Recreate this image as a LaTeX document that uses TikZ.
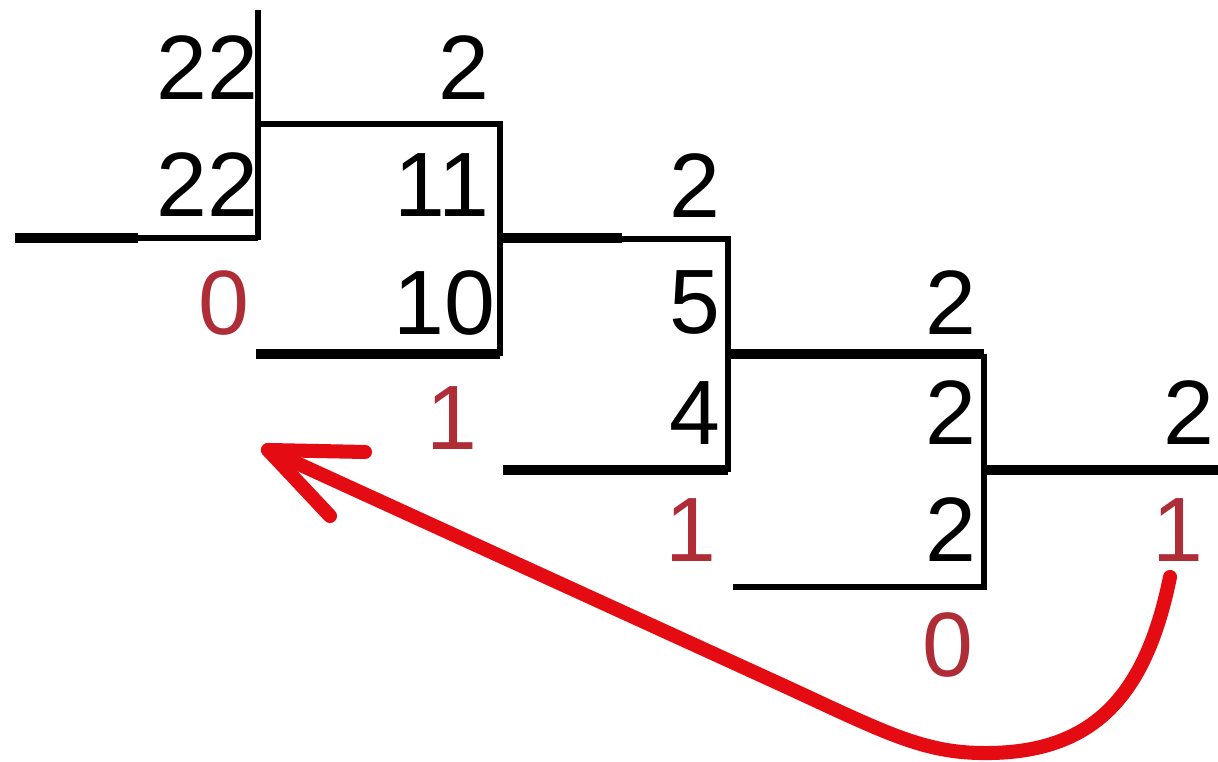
\documentclass[tikz,border=0pt]{standalone}
\usepackage{fontspec}
\setmainfont{Liberation Sans}
\definecolor{remred}{RGB}{175,45,55}
\definecolor{arrred}{RGB}{228,12,18}
\tikzset{
  digit/.style={anchor=east,inner sep=0pt,font=\fontsize{26}{30}\selectfont},
  rem/.style={digit,text=remred},
  barline/.style={line width=1.5pt},
  barheavy/.style={line width=3pt},
  backarrow/.style={draw=arrred,line width=4pt,line cap=round,line join=round}
}
\begin{document}
\begin{tikzpicture}[x=0.01cm,y=-0.01cm]
\useasboundingbox (0,0) rectangle (1218,762);
\node[digit] (n1) at (259,68) {22};
\node[digit] (d1) at (490,68) {2};
\node[digit] (p1) at (259,185) {22};
\node[digit] (q1) at (490,185) {11};
\node[digit] (d2) at (721,186) {2};
\node[rem] (r1) at (250,303) {0};
\node[digit] (p2) at (496,303) {10};
\node[digit] (q2) at (721,303) {5};
\node[digit] (d3) at (977,303) {2};
\node[rem] (r2) at (478,418) {1};
\node[digit] (p3) at (721,413) {4};
\node[digit] (q3) at (977,413) {2};
\node[digit] (d4) at (1215,413) {2};
\node[rem] (r3) at (717,530) {1};
\node[digit] (p4) at (977,530) {2};
\node[rem] (r4) at (1204,530) {1};
\node[rem] (r5) at (974,645) {0};
\draw[barline] (258,10) -- (258,240);
\draw[barheavy] (15,238) -- (138,238);
\draw[barline] (138,238) -- (258,238);
\draw[barline] (258,124) -- (500,124) -- (500,356);
\draw[barheavy] (256,354) -- (500,354);
\draw[barheavy] (500,238) -- (622,238);
\draw[barline] (622,239) -- (728,239) -- (728,472);
\draw[barheavy] (503,470) -- (728,470);
\draw[barheavy] (728,354) -- (984,354);
\draw[barline] (984,354) -- (984,587) -- (733,587);
\draw[barheavy] (984,470) -- (1218,470);
\coordinate (from) at (1170,577);
\coordinate (tip) at (268,450);
\draw[backarrow] (from) .. controls (1145,700) and (1090,755) .. (980,753)
  .. controls (920,752) and (880,730) .. (780,684) -- (tip);
\draw[backarrow] (365,452) -- (tip) -- (330,516);
\end{tikzpicture}
\end{document}
